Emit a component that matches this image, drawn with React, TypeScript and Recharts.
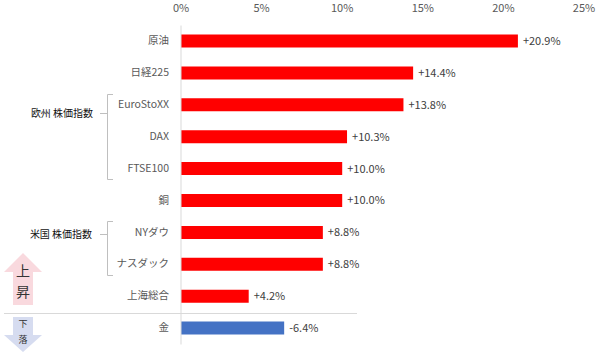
import React from "react";
import { BarChart, Bar, XAxis, YAxis, Cell, LabelList } from "recharts";

const categories = ["原油", "日経225", "EuroStoXX", "DAX", "FTSE100", "銅", "NYダウ", "ナスダック", "上海総合", "金"];
const magnitudes = [20.9, 14.4, 13.8, 10.3, 10.0, 10.0, 8.8, 8.8, 4.2, 6.4];
const valueLabels = ["+20.9%", "+14.4%", "+13.8%", "+10.3%", "+10.0%", "+10.0%", "+8.8%", "+8.8%", "+4.2%", "-6.4%"];
const barColors = ["#ff0000", "#ff0000", "#ff0000", "#ff0000", "#ff0000", "#ff0000", "#ff0000", "#ff0000", "#ff0000", "#4472c4"];
const xTicks = [0, 5, 10, 15, 20, 25];

const rows = categories.map((name, i) => ({ name, value: magnitudes[i], label: valueLabels[i] }));
const FONT = "'Noto Sans CJK JP', 'Liberation Sans', sans-serif";

export default function App() {
  return (
    <div style={{ position: "absolute", left: 0, top: 0, width: 600, height: 353, background: "#fff", fontFamily: FONT }}>
      <BarChart
        layout="vertical"
        width={600}
        height={353}
        data={rows}
        margin={{ top: 0, right: 16, bottom: 8.5, left: 0 }}
        barSize={13}
      >
        <XAxis
          type="number"
          orientation="top"
          domain={[0, 25]}
          ticks={xTicks}
          tickFormatter={(v: number) => `${v}%`}
          height={25.5}
          axisLine={false}
          tickLine={false}
          tickMargin={8}
          interval={0}
          tick={{ fontSize: 11, fill: "#595959", fontFamily: FONT }}
        />
        <YAxis
          type="category"
          dataKey="name"
          width={181}
          axisLine={{ stroke: "#d9d9d9" }}
          tickLine={false}
          tickMargin={6}
          interval={0}
          tick={{ fontSize: 10.5, fill: "#595959", fontFamily: FONT, dy: -1 }}
        />
        <Bar dataKey="value" isAnimationActive={false}>
          {rows.map((r, i) => (
            <Cell key={r.name} fill={barColors[i]} />
          ))}
          <LabelList dataKey="label" position="right" offset={5} style={{ fontSize: 11, fill: "#404040", fontFamily: FONT }} />
        </Bar>
      </BarChart>
      <svg width={600} height={353} style={{ position: "absolute", left: 0, top: 0, pointerEvents: "none" }} fontFamily={FONT}>
        <line x1={4} x2={357} y1={313.5} y2={313.5} stroke="#d9d9d9" />
        <path d="M113 94.5H107.5V179.5H113M107.5 113.5H100" fill="none" stroke="#bfbfbf" />
        <path d="M113 221.5H107.5V275.5H113M107.5 234.5H100" fill="none" stroke="#bfbfbf" />
        <text x={62} y={117} fontSize={10} fill="#111" textAnchor="middle">欧州 株価指数</text>
        <text x={61} y={238} fontSize={10} fill="#111" textAnchor="middle">米国 株価指数</text>
        <polygon points="23,253 42,272 33,272 33,305 13,305 13,272 4,272" fill="#f9d9de" />
        <polygon points="13,317 33,317 33,335 42,335 23,352 4,335 13,335" fill="#d6dcf0" />
        <text x={23} y={276} fontSize={14} fill="#333" textAnchor="middle">上</text>
        <text x={23} y={297} fontSize={14} fill="#333" textAnchor="middle">昇</text>
        <text x={23} y={327} fontSize={9} fill="#333" textAnchor="middle">下</text>
        <text x={23} y={343} fontSize={9} fill="#333" textAnchor="middle">落</text>
      </svg>
    </div>
  );
}
